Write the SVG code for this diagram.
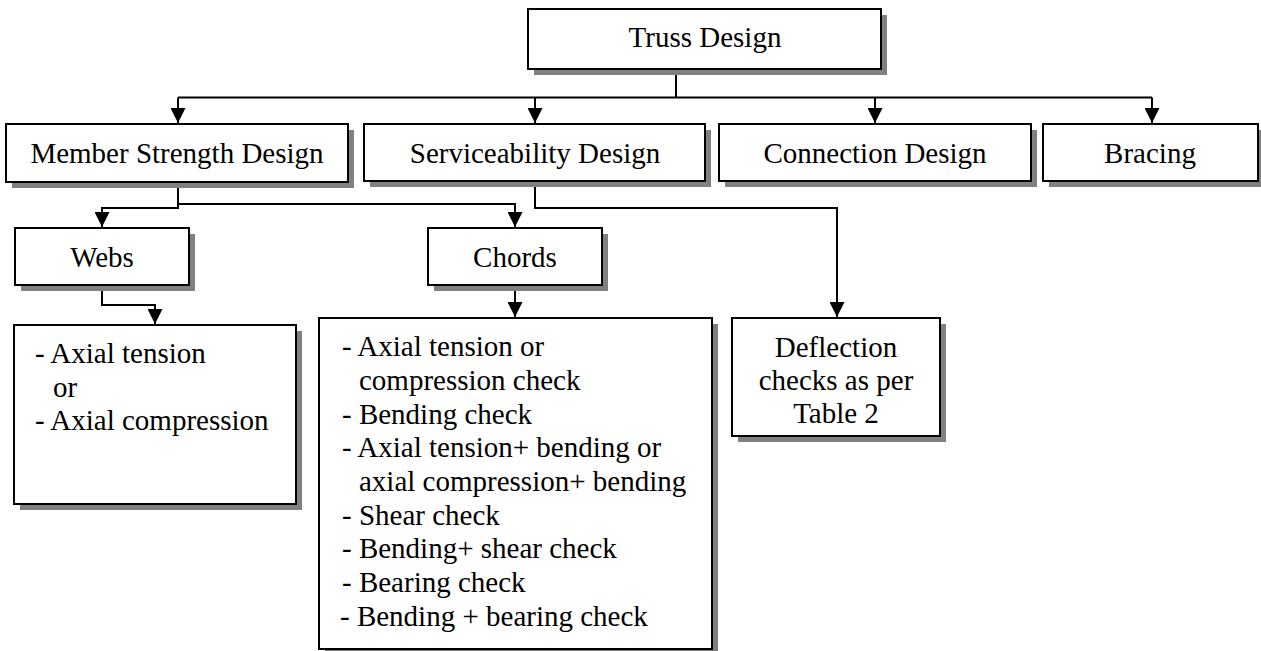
<svg xmlns="http://www.w3.org/2000/svg" width="1261" height="651" viewBox="0 0 1261 651">
<style>
.sh{fill:#808080;stroke:none}
.bx{fill:#fff;stroke:#000;stroke-width:2}
.t{font-family:"Liberation Serif","Times New Roman",serif;font-size:29px;fill:#000}
.c{text-anchor:middle}
.ln{fill:none;stroke:#000;stroke-width:2}
</style>
<defs>
<marker id="ah" markerUnits="userSpaceOnUse" markerWidth="15" markerHeight="15" refX="15" refY="7.5" orient="auto" viewBox="0 0 15 15">
<path d="M0,0 L15,7.5 L0,15 z" fill="#000"/>
</marker>
</defs>
<rect width="1261" height="651" fill="#fff"/>
<g id="connectors">
<path class="ln" d="M676,69 V97.5"/>
<path class="ln" d="M178,97.5 H1152"/>
<path class="ln" d="M178,97.5 V123" marker-end="url(#ah)"/>
<path class="ln" d="M535,97.5 V123" marker-end="url(#ah)"/>
<path class="ln" d="M875,97.5 V123" marker-end="url(#ah)"/>
<path class="ln" d="M1152,97.5 V123" marker-end="url(#ah)"/>
<path class="ln" d="M178,182 V208 H102 V227" marker-end="url(#ah)"/>
<path class="ln" d="M178,204 H515 V227" marker-end="url(#ah)"/>
<path class="ln" d="M535,181 V208 H837 V317" marker-end="url(#ah)"/>
<path class="ln" d="M102,285 V305 H155 V324" marker-end="url(#ah)"/>
<path class="ln" d="M515,285 V317" marker-end="url(#ah)"/>
</g>
<g id="truss">
<rect class="sh" x="534" y="15" width="353" height="60"/>
<rect class="bx" x="528" y="9" width="353" height="60"/>
<text class="t c" x="705" y="47">Truss Design</text>
</g>
<g id="member">
<rect class="sh" x="12" y="130" width="342" height="58"/>
<rect class="bx" x="6" y="124" width="342" height="58"/>
<text class="t c" x="177" y="163">Member Strength Design</text>
</g>
<g id="service">
<rect class="sh" x="370" y="130" width="341" height="57"/>
<rect class="bx" x="364" y="124" width="341" height="57"/>
<text class="t c" x="535" y="163">Serviceability Design</text>
</g>
<g id="connection">
<rect class="sh" x="725" y="130" width="312" height="57"/>
<rect class="bx" x="719" y="124" width="312" height="57"/>
<text class="t c" x="875" y="163">Connection Design</text>
</g>
<g id="bracing">
<rect class="sh" x="1049" y="130" width="215" height="57"/>
<rect class="bx" x="1043" y="124" width="215" height="57"/>
<text class="t c" x="1150" y="163">Bracing</text>
</g>
<g id="webs">
<rect class="sh" x="21" y="234" width="174" height="57"/>
<rect class="bx" x="15" y="228" width="174" height="57"/>
<text class="t c" x="102" y="267">Webs</text>
</g>
<g id="chords">
<rect class="sh" x="434" y="234" width="174" height="57"/>
<rect class="bx" x="428" y="228" width="174" height="57"/>
<text class="t c" x="515" y="267">Chords</text>
</g>
<g id="webs-checks">
<rect class="sh" x="20" y="331" width="282" height="179"/>
<rect class="bx" x="14" y="325" width="282" height="179"/>
<text class="t" x="35" y="363">- Axial tension</text>
<text class="t" x="53" y="397">or</text>
<text class="t" x="35" y="430">- Axial compression</text>
</g>
<g id="chords-checks">
<rect class="sh" x="325" y="324" width="393" height="331"/>
<rect class="bx" x="319" y="318" width="393" height="331"/>
<text class="t" x="342" y="356">- Axial tension or</text>
<text class="t" x="359" y="390">compression check</text>
<text class="t" x="342" y="424">- Bending check</text>
<text class="t" x="342" y="457">- Axial tension+ bending or</text>
<text class="t" x="359" y="491">axial compression+ bending</text>
<text class="t" x="342" y="525">- Shear check</text>
<text class="t" x="342" y="558">- Bending+ shear check</text>
<text class="t" x="342" y="592">- Bearing check</text>
<text class="t" x="340" y="626">- Bending + bearing check</text>
</g>
<g id="deflection">
<rect class="sh" x="738" y="324" width="208" height="118"/>
<rect class="bx" x="732" y="318" width="208" height="118"/>
<text class="t c" x="836" y="357">Deflection</text>
<text class="t c" x="836" y="390">checks as per</text>
<text class="t c" x="836" y="423">Table 2</text>
</g>
</svg>
